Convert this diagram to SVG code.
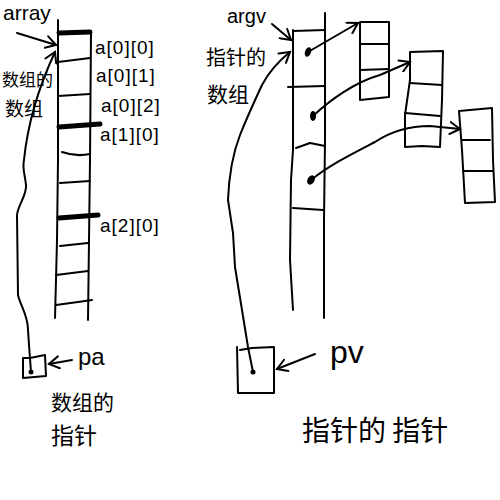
<svg xmlns="http://www.w3.org/2000/svg" width="500" height="500" viewBox="0 0 500 500">
<style>
.s{fill:none;stroke:#000;stroke-width:2;stroke-linecap:round;stroke-linejoin:round}
.t{stroke-width:5}
.lat{font-family:"Liberation Sans",Arial,sans-serif;fill:#000}
.lbl{font-size:19px;letter-spacing:1px}
.cjk{font-family:"Noto Sans CJK SC","Noto Sans CJK JP",sans-serif;fill:#000}
</style>
<defs>
<marker id="ah" markerWidth="14" markerHeight="14" refX="11" refY="7" orient="auto" markerUnits="userSpaceOnUse">
<path d="M1,1 L11,7 L1,13" fill="none" stroke="#000" stroke-width="2" stroke-linecap="round"/>
</marker>
</defs>
<rect width="500" height="500" fill="#fff"/>

<g id="array">
<path class="s" d="M58,20 L58,160 L57,240 L56,280 L55,318"/>
<path class="s" d="M91,32 L90,160 L89,240 L88,320"/>
<path class="s t" d="M59,33 L90,32"/>
<path class="s" d="M58,62 L90,58"/>
<path class="s" d="M58,96 L90,94"/>
<path class="s t" d="M59,127 L100,124"/>
<path class="s" d="M62,152 Q76,157 90,154"/>
<path class="s" d="M60,183 L90,181"/>
<path class="s t" d="M59,218 L98,215"/>
<path class="s" d="M60,246 L88,243"/>
<path class="s" d="M56,275 L88,271"/>
<path class="s" d="M56,305 L78,302 L92,300"/>
</g>

<g id="array-labels">
<text class="lat" x="3" y="20" font-size="21">array</text>
<text class="lat lbl" x="95" y="54">a[0][0]</text>
<text class="lat lbl" x="96" y="82">a[0][1]</text>
<text class="lat lbl" x="101" y="112">a[0][2]</text>
<text class="lat lbl" x="100" y="141">a[1][0]</text>
<text class="lat lbl" x="100" y="232">a[2][0]</text>
<text class="cjk" x="2" y="86" font-size="17">数组的</text>
<text class="cjk" x="5" y="116" font-size="19">数组</text>
</g>

<g id="pa">
<path class="s" d="M23,358 L30,358 L45,355 L46,376 L23,378 Z"/>
<circle cx="31" cy="372" r="2.5" fill="#000"/>
<text class="lat" x="78" y="365" font-size="24">pa</text>
<text class="cjk" x="51" y="410" font-size="21">数组的</text>
<text class="cjk" x="51" y="444" font-size="23">指针</text>
</g>

<g id="argv">
<path class="s" d="M293,30 L293,150 L291,180 L290,260 L293,310"/>
<path class="s" d="M325,13 L325,140 L324,220 L324,318"/>
<path class="s" d="M293,31 L325,30"/>
<path class="s" d="M288,87 L325,86"/>
<path class="s" d="M296,148 L310,143 L325,146"/>
<path class="s" d="M293,208 L323,210"/>
<ellipse cx="308" cy="52" rx="3" ry="5" transform="rotate(20 308 52)" fill="#000"/>
<ellipse cx="313" cy="116" rx="3" ry="5" fill="#000"/>
<ellipse cx="311" cy="180" rx="3.5" ry="5" transform="rotate(30 311 180)" fill="#000"/>
</g>

<g id="argv-labels">
<text class="lat" x="227" y="23" font-size="20">argv</text>
<text class="cjk" x="206" y="65" font-size="20">指针的</text>
<text class="cjk" x="207" y="102" font-size="21">数组</text>
</g>

<g id="str1">
<path class="s" d="M360,22 L360,100 L389,97 L389,22 Z"/>
<path class="s" d="M360,44 L389,44"/>
<path class="s" d="M360,70 L389,69"/>
</g>
<g id="str2">
<path class="s" d="M410,52 L443,51 L442,100 L440,147 L422,146 L405,147 L405,115 L410,80 Z"/>
<path class="s" d="M410,83 L442,85"/>
<path class="s" d="M405,113 L440,116"/>
</g>
<g id="str3">
<path class="s" d="M459,111 L492,108 L493,160 L495,202 L465,203 L462,150 Z"/>
<path class="s" d="M462,140 L490,140"/>
<path class="s" d="M463,171 L493,171"/>
</g>

<g id="pv">
<path class="s" d="M237,347 L238,393 L274,393 L274,347 L252,348 L240,350"/>
<circle cx="253" cy="372" r="2.5" fill="#000"/>
<text class="lat" x="330" y="363" font-size="32">pv</text>
</g>

<g id="caption">
<text class="cjk" x="302" y="441" font-size="28">指针的 指针</text>
</g>

<g id="connectors">
<path class="s" marker-end="url(#ah)" d="M17,33 L56,45"/>
<path class="s" marker-end="url(#ah)" d="M31,372 L29,345 L28,330 C28,315 20,305 18,295 L17,215 C18,205 27,195 26,185 C25,175 22,168 24,160 C27,130 35,95 55,52"/>
<path class="s" marker-end="url(#ah)" d="M72,360 L49,364"/>
<path class="s" marker-end="url(#ah)" d="M272,24 L291,40"/>
<path class="s" marker-end="url(#ah)" d="M253,372 L248,347 L242,310 L235,267 L233,233 L228,200 C229,175 233,153 240,135 C248,115 255,100 262,85 C270,70 280,60 290,52"/>
<path class="s" marker-end="url(#ah)" d="M315,354 L277,369"/>
<path class="s" marker-end="url(#ah)" d="M308,52 L358,23"/>
<path class="s" marker-end="url(#ah)" d="M313,116 C330,100 355,82 380,75 L410,62"/>
<path class="s" marker-end="url(#ah)" d="M311,180 C330,165 350,155 375,142 C390,132 410,126 430,126 L460,129"/>
</g>
</svg>
